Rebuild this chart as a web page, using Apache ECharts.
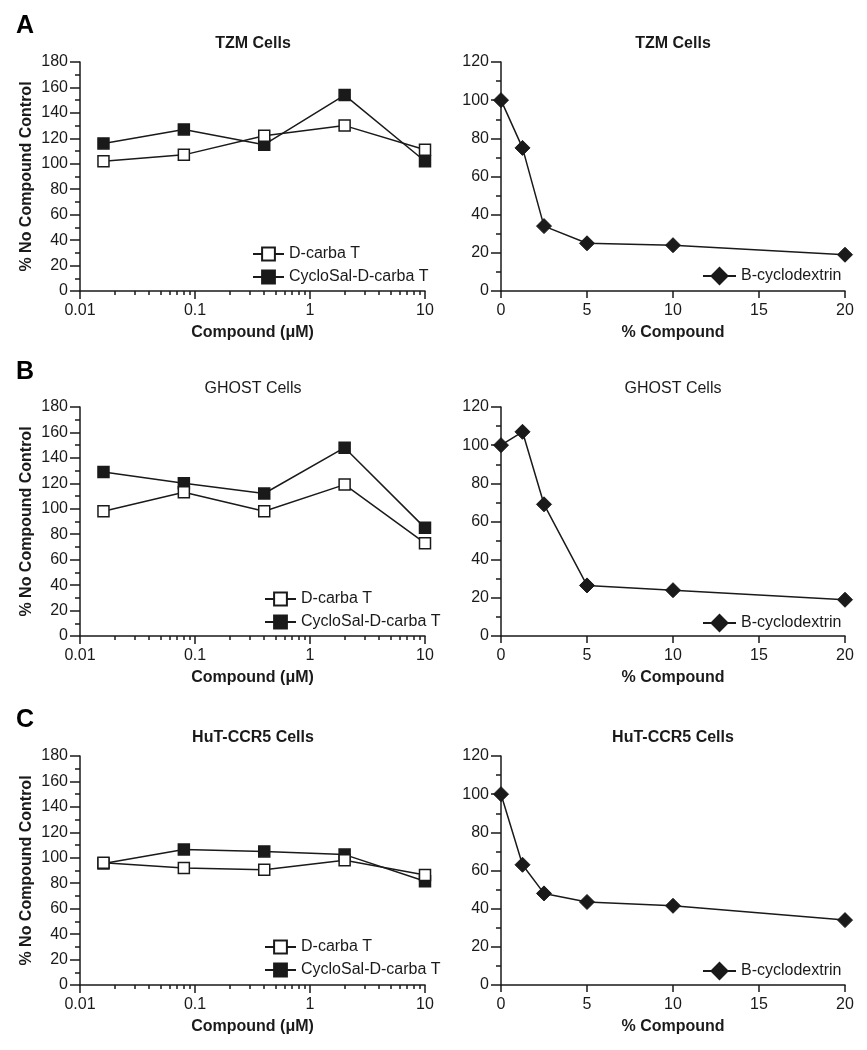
<!DOCTYPE html>
<html>
<head>
<meta charset="utf-8">
<script src="https://cdn.jsdelivr.net/npm/echarts@6/dist/echarts.min.js"></script>
<style>
  html, body { margin: 0; padding: 0; background: #fff; }
  #chart { width: 867px; height: 1050px; }
</style>
</head>
<body>
<div id="chart"></div>
<script>
// x values
const concUM = [0.016, 0.08, 0.4, 2, 10];
const pctCompound = [0, 1.25, 2.5, 5, 10, 20];

// TZM
const tzmDcarba = [102, 107, 122, 130, 111];
const tzmCyclo = [116, 127, 115, 154, 102];
const tzmBcd = [100, 75, 34, 25, 24, 19];
// GHOST
const ghostDcarba = [98, 113, 98, 119, 73];
const ghostCyclo = [129, 120, 112, 148, 85];
const ghostBcd = [100, 107, 69, 26.5, 24, 19];
// HuT-CCR5
const hutDcarba = [96, 92, 90.5, 98, 86.5];
const hutCyclo = [95.5, 106.5, 105, 102.5, 81.5];
const hutBcd = [100, 63, 48, 43.5, 41.5, 34];

const panelLetters = ['A', 'B', 'C'];
const cellTitles = ['TZM Cells', 'GHOST Cells', 'HuT-CCR5 Cells'];
const titleBold = [true, false, true];
const logMinorTicks = [0.02, 0.03, 0.04, 0.05, 0.06, 0.07, 0.08, 0.09,
  0.2, 0.3, 0.4, 0.5, 0.6, 0.7, 0.8, 0.9, 2, 3, 4, 5, 6, 7, 8, 9];

const rows = [
  {dcarba: tzmDcarba, cyclo: tzmCyclo, bcd: tzmBcd},
  {dcarba: ghostDcarba, cyclo: ghostCyclo, bcd: ghostBcd},
  {dcarba: hutDcarba, cyclo: hutCyclo, bcd: hutBcd}
];

const ink = '#1a1a1a';
const font = 'Liberation Sans, Arial, Helvetica, sans-serif';
const gridTops = [62, 407, 756];
const letterTops = [14, 360, 708];
const titleTops = [36, 381, 730];
const leftLegendLefts = [252, 264, 264];
const leftLegendTops = [246, 591, 939];
const rightLegendTops = [267, 614, 962];
const gridH = 229;

const zip = (xs, ys) => xs.map((x, i) => [x, ys[i]]);

const lineAx = {lineStyle: {color: ink, width: 1.5}};
const lbl = {color: ink, fontSize: 16, fontFamily: font, margin: 12};
const nameStyle = {color: ink, fontSize: 16, fontWeight: 'bold', fontFamily: font};

let option = {
  animation: false,
  backgroundColor: '#fff',
  title: [], grid: [], xAxis: [], yAxis: [], legend: [], series: []
};

rows.forEach((row, r) => {
  const top = gridTops[r];
  // panel letter
  option.title.push({
    text: panelLetters[r], left: 16, top: letterTops[r], padding: 0,
    textStyle: {color: '#000', fontSize: 25, fontWeight: 'bold', fontFamily: font}
  });
  // sub titles
  [253, 673].forEach(cx => {
    option.title.push({
      text: cellTitles[r], left: cx, top: titleTops[r], padding: 0, textAlign: 'center',
      textStyle: {color: ink, fontSize: 16, fontWeight: titleBold[r] ? 'bold' : 'normal', fontFamily: font}
    });
  });

  option.grid.push({left: 80, top: top, width: 345, height: gridH});
  option.grid.push({left: 501, top: top, width: 344, height: gridH});
  const gL = 2 * r, gR = 2 * r + 1;
  const xL = 3 * r, xR = 3 * r + 2;

  // log axis with major ticks
  option.xAxis.push({
    type: 'log', logBase: 10, min: 0.01, max: 10, gridIndex: gL, position: 'bottom',
    name: 'Compound (\u03bcM)', nameLocation: 'middle', nameGap: 34, nameTextStyle: nameStyle,
    axisLine: lineAx, axisTick: {length: 8, lineStyle: {color: ink, width: 1.5}},
    axisLabel: lbl, splitLine: {show: false}, minorTick: {show: false}
  });
  // minor ticks of the log axis
  option.xAxis.push({
    type: 'log', logBase: 10, min: 0.01, max: 10, gridIndex: gL, position: 'bottom',
    axisLine: {show: false},
    axisTick: {length: 4, customValues: logMinorTicks, lineStyle: {color: ink, width: 1.5}},
    axisLabel: {show: false}, splitLine: {show: false}
  });
  option.xAxis.push({
    type: 'value', min: 0, max: 20, interval: 5, gridIndex: gR, position: 'bottom',
    name: '% Compound', nameLocation: 'middle', nameGap: 34, nameTextStyle: nameStyle,
    axisLine: lineAx, axisTick: {length: 7, lineStyle: {color: ink, width: 1.5}},
    axisLabel: lbl, splitLine: {show: false}
  });

  option.yAxis.push({
    type: 'value', min: 0, max: 180, interval: 20, gridIndex: gL,
    name: '% No Compound Control', nameLocation: 'middle', nameGap: 45, nameTextStyle: nameStyle,
    axisLine: Object.assign({onZero: false}, lineAx),
    axisTick: {length: 10, lineStyle: {color: ink, width: 1.5}},
    minorTick: {show: true, splitNumber: 2, length: 5, lineStyle: {color: ink, width: 1.5}},
    axisLabel: lbl, splitLine: {show: false}
  });
  option.yAxis.push({
    type: 'value', min: 0, max: 120, interval: 20, gridIndex: gR,
    axisLine: Object.assign({onZero: false}, lineAx),
    axisTick: {length: 10, lineStyle: {color: ink, width: 1.5}},
    minorTick: {show: true, splitNumber: 2, length: 5, lineStyle: {color: ink, width: 1.5}},
    axisLabel: lbl, splitLine: {show: false}
  });

  const lineSt = {color: ink, width: 1.5};
  option.series.push({
    name: 'D-carba T', type: 'line', xAxisIndex: xL, yAxisIndex: gL, clip: false,
    symbol: 'rect', symbolSize: 11, data: zip(concUM, row.dcarba),
    lineStyle: lineSt, itemStyle: {color: '#fff', borderColor: ink, borderWidth: 1.5}, z: 3
  });
  option.series.push({
    name: 'CycloSal-D-carba T', type: 'line', xAxisIndex: xL, yAxisIndex: gL, clip: false,
    symbol: 'rect', symbolSize: 11, data: zip(concUM, row.cyclo),
    lineStyle: lineSt, itemStyle: {color: ink, borderColor: ink, borderWidth: 1.5}, z: 2
  });
  option.series.push({
    name: 'B-cyclodextrin', type: 'line', xAxisIndex: xR, yAxisIndex: gR, clip: false,
    symbol: 'diamond', symbolSize: 15, data: zip(pctCompound, row.bcd),
    lineStyle: lineSt, itemStyle: {color: ink, borderColor: ink, borderWidth: 1}
  });

  option.legend.push({
    orient: 'vertical', left: leftLegendLefts[r], top: leftLegendTops[r], padding: 0,
    itemWidth: 31, itemHeight: 16, itemGap: 7,
    data: ['D-carba T', 'CycloSal-D-carba T'],
    textStyle: {color: ink, fontSize: 16, fontFamily: font}
  });
  option.legend.push({
    orient: 'vertical', left: 702, top: rightLegendTops[r], padding: 0,
    itemWidth: 33, itemHeight: 20,
    data: ['B-cyclodextrin'],
    textStyle: {color: ink, fontSize: 16, fontFamily: font}
  });
});

echarts.init(document.getElementById('chart')).setOption(option);
</script>
</body>
</html>
